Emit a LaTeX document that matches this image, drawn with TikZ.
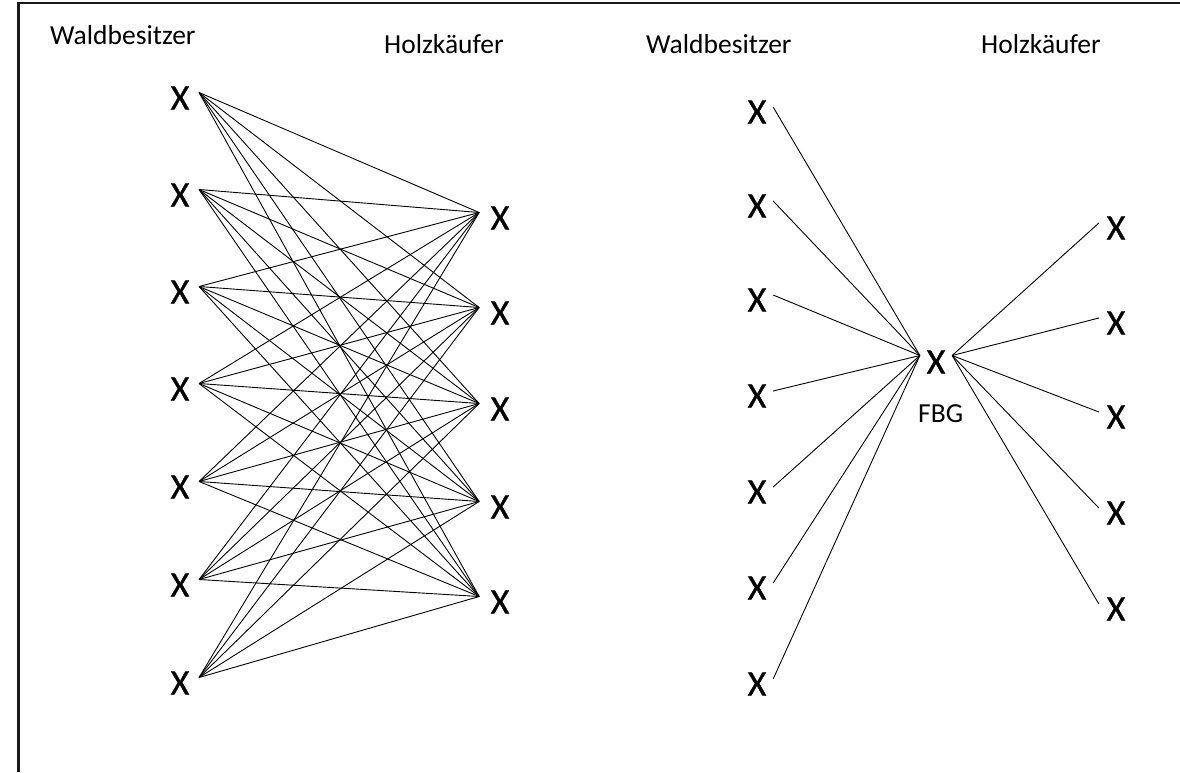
\documentclass[tikz,border=0pt]{standalone}
\usepackage{fontspec}
\setmainfont{Carlito}
\newfontface\markface{Carlito}[FakeBold=0.7]
\begin{document}
\begin{tikzpicture}[x=1pt,y=-1pt,
  xn/.style={inner ysep=0pt,outer sep=0pt,font=\markface\fontsize{36}{36}\selectfont},
  wl/.style={xn,inner xsep=9.7pt},
  hl/.style={xn,inner xsep=11.5pt},
  wr/.style={xn,inner xsep=6.8pt},
  hr/.style={xn,inner xsep=7.8pt},
  hub/.style={xn,inner xsep=6.8pt},
  lbl/.style={inner sep=0pt,font=\fontsize{27.5}{27.5}\selectfont},
  link/.style={line width=0.9pt},
  frame/.style={line width=2.6pt,black!90}]
\useasboundingbox (0,0) rectangle (1180,772);
% frame
\draw[frame] (18.5,772) -- (18.5,3) -- (1180,3);
% headings
\node[lbl,anchor=base west] (tw1) at (50,44) {Waldbesitzer};
\node[lbl,anchor=base west] (th1) at (384,53) {Holzkäufer};
\node[lbl,anchor=base west] (tw2) at (646,53) {Waldbesitzer};
\node[lbl,anchor=base west] (th2) at (981,53) {Holzkäufer};
% direct trade: every owner to every buyer
\foreach \i/\y in {1/98,2/195,3/292,4/389,5/487,6/585,7/683}
  \node[wl] (a\i) at (180,\y) {X};
\foreach \j/\y in {1/218,2/313,3/409,4/507,5/602}
  \node[hl] (b\j) at (500,\y) {X};
\foreach \i in {1,...,7}
  \foreach \j in {1,...,5}
    \draw[link] ([yshift=5.5pt]a\i.east) -- ([yshift=5.5pt]b\j.west);
% trade through the FBG
\foreach \i/\y in {1/112,2/206,3/300,4/396,5/492,6/588,7/684}
  \node[wr] (c\i) at (757,\y) {X};
\node[hub] (f) at (936,362) {X};
\node[lbl,anchor=base west] (fl) at (918,422) {FBG};
\foreach \j/\y in {1/228,2/323,3/417,4/513,5/609}
  \node[hr] (d\j) at (1116,\y) {X};
\foreach \i in {1,...,7}
  \draw[link] ([yshift=5pt]c\i.east) -- ([yshift=6.5pt]f.west);
\foreach \j in {1,...,5}
  \draw[link] ([yshift=6.5pt]f.east) -- ([yshift=5pt]d\j.west);
\end{tikzpicture}
\end{document}
